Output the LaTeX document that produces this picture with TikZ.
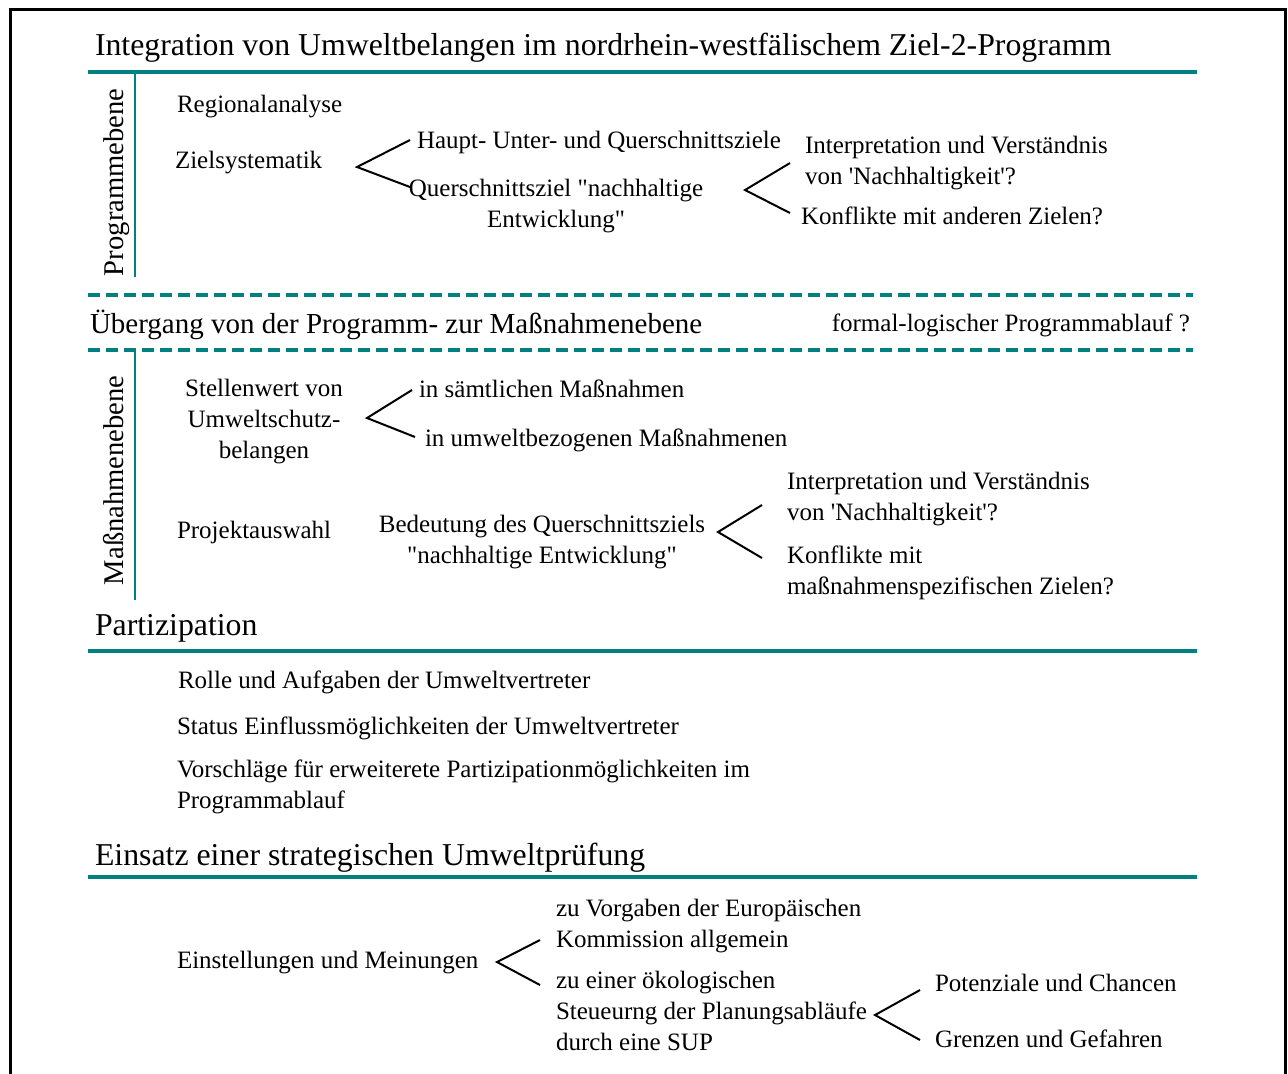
\documentclass[tikz,border=0pt]{standalone}
\usepackage{fontspec}
\setmainfont{Liberation Serif}[Ligatures=TeXOff]
\definecolor{tealc}{RGB}{0,128,128}
\begin{document}
\begin{tikzpicture}[x=0.5pt,y=-0.5pt,
  every node/.style={inner sep=0pt, outer sep=0pt},
  txt/.style={font=\fontsize{12.5}{15.5}\selectfont},
  head/.style={font=\fontsize{15.9}{19}\selectfont},
  subhead/.style={font=\fontsize{14.5}{18}\selectfont},
  level/.style={font=\fontsize{14.3}{17}\selectfont, rotate=90, anchor=base west},
  rulebar/.style={draw=tealc, line width=1.6pt},
  dashrule/.style={draw=tealc, line width=1.6pt, dash pattern=on 6pt off 3pt},
  sideline/.style={draw=tealc, line width=1.1pt},
  brace/.style={draw=black, line width=1pt},
]
\useasboundingbox (0,0) rectangle (1288,1073);
% outer frame (open at the bottom)
\draw[line width=1.5pt] (10,1100) -- (10,9) -- (1285,9) -- (1285,1100);

% multi-line nodes are anchored at the baseline of their last line

% ---------- Programmebene ----------
\node[head, anchor=base west] (title) at (95,55) {Integration von Umweltbelangen im nordrhein-westfälischem Ziel-2-Programm};
\draw[rulebar] (88,72) -- (1197,72);
\draw[sideline] (135,74) -- (135,277);
\node[level] (progeb) at (123,276) {Programmebene};

\node[txt, anchor=base west] (regio) at (177,112) {Regionalanalyse};
\node[txt, anchor=base west] (ziel) at (175,168) {Zielsystematik};
\node[txt, anchor=base west] (haupt) at (417,148) {Haupt- Unter- und Querschnittsziele};
\node[txt, anchor=base, align=center] (quer) at (556,227) {Querschnittsziel "nachhaltige\\Entwicklung"};
\node[txt, anchor=base west, align=left] (interp1) at (805,184) {Interpretation und Verständnis\\von 'Nachhaltigkeit'?};
\node[txt, anchor=base west] (konf1) at (801,224) {Konflikte mit anderen Zielen?};

\coordinate (z1) at (357,167);
\coordinate (z1a) at (410,140);
\coordinate (z1b) at (410,187);
\draw[brace] (z1a) -- (z1) -- (z1b);
\coordinate (z2) at (745,190);
\coordinate (z2a) at (790,163);
\coordinate (z2b) at (790,213);
\draw[brace] (z2a) -- (z2) -- (z2b);

% ---------- Uebergang ----------
\draw[dashrule] (88,295) -- (1193,295);
\node[subhead, anchor=base west] (ueber) at (90,333) {Übergang von der Programm- zur Maßnahmenebene};
\node[txt, anchor=base east] (formal) at (1190,331) {formal-logischer Programmablauf ?};
\draw[dashrule] (88,350) -- (1193,350);

% ---------- Massnahmenebene ----------
\draw[sideline] (135,352) -- (135,600);
\node[level] (masseb) at (123,585) {Maßnahmenebene};

\node[txt, anchor=base, align=center] (stell) at (264,458) {Stellenwert von\\Umweltschutz-\\belangen};
\node[txt, anchor=base west] (saemt) at (419,397) {in sämtlichen Maßnahmen};
\node[txt, anchor=base west] (umwb) at (425,446) {in umweltbezogenen Maßnahmenen};
\coordinate (m1) at (367,418);
\coordinate (m1a) at (412,390);
\coordinate (m1b) at (415,437);
\draw[brace] (m1a) -- (m1) -- (m1b);

\node[txt, anchor=base west] (proj) at (177,538) {Projektauswahl};
\node[txt, anchor=base, align=center] (bed) at (542,563) {Bedeutung des Querschnittsziels\\"nachhaltige Entwicklung"};
\node[txt, anchor=base west, align=left] (interp2) at (787,520) {Interpretation und Verständnis\\von 'Nachhaltigkeit'?};
\node[txt, anchor=base west, align=left] (konf2) at (787,594) {Konflikte mit\\maßnahmenspezifischen Zielen?};
\coordinate (m2) at (718,532);
\coordinate (m2a) at (762,505);
\coordinate (m2b) at (762,558);
\draw[brace] (m2a) -- (m2) -- (m2b);

% ---------- Partizipation ----------
\node[head, anchor=base west] (partiz) at (95,635) {Partizipation};
\draw[rulebar] (88,651) -- (1197,651);
\node[txt, anchor=base west] (rolle) at (178,688) {Rolle und Aufgaben der Umweltvertreter};
\node[txt, anchor=base west] (status) at (177,734) {Status Einflussmöglichkeiten der Umweltvertreter};
\node[txt, anchor=base west, align=left] (vorsch) at (177,808) {Vorschläge für erweiterete Partizipationmöglichkeiten im\\Programmablauf};

% ---------- Strategische Umweltpruefung ----------
\node[head, anchor=base west] (sup) at (95,865) {Einsatz einer strategischen Umweltprüfung};
\draw[rulebar] (88,877) -- (1197,877);
\node[txt, anchor=base west] (einst) at (177,968) {Einstellungen und Meinungen};
\node[txt, anchor=base west, align=left] (vorg) at (556,947) {zu Vorgaben der Europäischen\\Kommission allgemein};
\node[txt, anchor=base west, align=left] (oeko) at (556,1050) {zu einer ökologischen\\Steueurng der Planungsabläufe\\durch eine SUP};
\node[txt, anchor=base west] (pot) at (935,991) {Potenziale und Chancen};
\node[txt, anchor=base west] (grenz) at (935,1047) {Grenzen und Gefahren};
\coordinate (e1) at (497,962);
\coordinate (e1a) at (540,940);
\coordinate (e1b) at (540,985);
\draw[brace] (e1a) -- (e1) -- (e1b);
\coordinate (e2) at (875,1015);
\coordinate (e2a) at (920,990);
\coordinate (e2b) at (920,1040);
\draw[brace] (e2a) -- (e2) -- (e2b);
\end{tikzpicture}
\end{document}
